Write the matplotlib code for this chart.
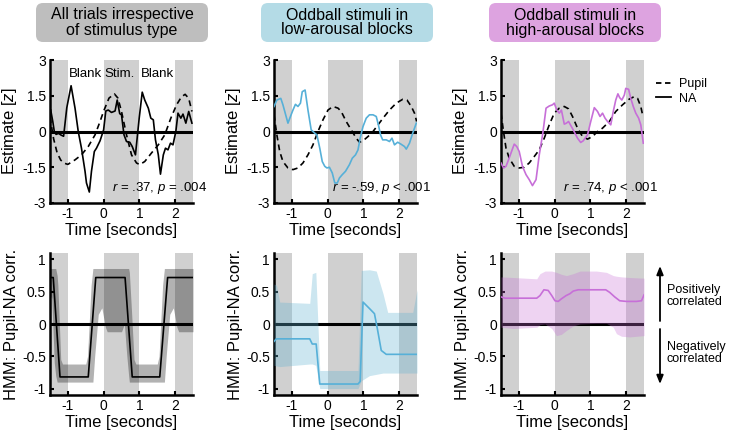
import matplotlib
matplotlib.use('Agg')
import matplotlib.pyplot as plt
from matplotlib.lines import Line2D
from matplotlib.patches import FancyBboxPatch

plt.rcParams['font.family'] = 'Liberation Sans'
plt.rcParams['mathtext.fontset'] = 'custom'
plt.rcParams['mathtext.it'] = 'Liberation Sans:italic'
plt.rcParams['mathtext.rm'] = 'Liberation Sans'
plt.rcParams['axes.unicode_minus'] = False

# ---- data ----
titles = ['All trials irrespective\nof stimulus type',
          'Oddball stimuli in\nlow-arousal blocks',
          'Oddball stimuli in\nhigh-arousal blocks']
stats = [r'$r$ = .37, $p$ = .004', r'$r$ = -.59, $p$ < .001', r'$r$ = .74, $p$ < .001']
phase_labels = ['Blank', 'Stim.', 'Blank']
phase_centers = [-0.5, 0.45, 1.5]
shade_spans = [(-1.5, -1.0), (0.0, 1.0), (2.0, 2.5)]
xticks = [-1, 0, 1, 2]
top_yticks = [-3, -1.5, 0, 1.5, 3]
top_yticklabels = ['-3', '-1.5', '0', '1.5', '3']
bot_yticks = [-1, -0.5, 0, 0.5, 1]
bot_yticklabels = ['-1', '-0.5', '0', '0.5', '1']

# panel 1: all trials
t1_na = [-1.48, -1.42, -1.38, -1.33, -1.26, -1.19, -1.12, -1.03, -0.91, -0.80,
         -0.71, -0.62, -0.52, -0.48, -0.40, -0.34, -0.26, -0.20, -0.10, 0.00,
         0.06, 0.13, 0.22, 0.32, 0.38, 0.45, 0.50, 0.57, 0.64, 0.73,
         0.80, 0.89, 0.995, 1.08, 1.15, 1.25, 1.32, 1.39, 1.45, 1.53,
         1.59, 1.67, 1.73, 1.80, 1.87, 1.94, 2.02, 2.08, 2.16, 2.22,
         2.30, 2.38, 2.47]
y1_na = [0.9, 0.4, 0.0, -0.12, -0.08, -0.15, -0.2, 1.0, 1.92, 0.98,
         0.0, -0.7, -1.67, -2.16, -2.54, -1.67, -0.84, -0.7, -0.39, 0.07,
         0.86, 0.9, 0.8, 0.86, 1.32, 0.75, 0.7, -0.14, -0.42, -0.45,
         -0.63, -0.98, 0.56, 1.65, 1.32, 0.98, 0.56, 0.49, -0.35, -0.98,
         -1.79, -0.98, -0.7, -0.77, -0.49, -0.56, 0.0, 0.77, 0.56, 0.73,
         0.35, 0.84, 0.35]
t1_pu = [-1.5, -1.4, -1.3, -1.2, -1.1, -1.0, -0.8, -0.62, -0.43, -0.24,
         -0.1, 0.0, 0.15, 0.3, 0.4, 0.5, 0.64, 0.78, 0.92, 1.01,
         1.15, 1.34, 1.53, 1.71, 1.88, 2.04, 2.18, 2.28, 2.38, 2.47]
y1_pu = [0.6, -0.3, -0.9, -1.2, -1.33, -1.38, -1.19, -0.98, -0.63, -0.14,
         0.42, 0.85, 1.4, 1.58, 1.4, 0.84, -0.14, -0.98, -1.32, -1.39,
         -1.26, -0.9, -0.56, -0.14, 0.56, 1.12, 1.46, 1.56, 1.39, 0.84]

# panel 2: low arousal
t2_na = [-1.5, -1.42, -1.31, -1.25, -1.11, -1.04, -0.97, -0.9, -0.83, -0.76,
         -0.71, -0.63, -0.55, -0.46, -0.36, -0.3, -0.22, -0.15, -0.08, -0.02,
         0.05, 0.13, 0.2, 0.27, 0.33, 0.41, 0.5, 0.61, 0.69, 0.78,
         0.85, 0.91, 0.99, 1.08, 1.17, 1.27, 1.36, 1.42, 1.48, 1.54,
         1.64, 1.73, 1.8, 1.87, 1.96, 2.05, 2.15, 2.2, 2.29, 2.38, 2.48]
y2_na = [1.05, 1.32, 1.39, 1.12, 0.35, 0.63, 0.9, 1.14, 1.05, 1.19,
         1.67, 1.74, 0.9, 0.07, -0.07, -0.14, -0.7, -1.26, -1.46, -1.53,
         -1.5, -1.74, -2.16, -2.16, -1.95, -1.81, -1.67, -1.39, -1.12, -0.98,
         -0.77, -0.28, 0.21, 0.56, 0.7, 0.7, 0.63, 0.28, -0.14, -0.35,
         -0.35, -0.42, -0.28, -0.56, -0.45, -0.53, -0.63, -0.74, -0.49, -0.07, 0.35]
t2_pu = [-1.5, -1.42, -1.34, -1.25, -1.11, -0.97, -0.83, -0.69, -0.55, -0.41,
         -0.27, -0.13, 0.01, 0.15, 0.29, 0.38, 0.52, 0.66, 0.8, 0.89,
         0.99, 1.13, 1.27, 1.41, 1.55, 1.73, 1.92, 2.1, 2.22, 2.34, 2.43, 2.49]
y2_pu = [0.7, -0.14, -0.84, -1.26, -1.53, -1.6, -1.53, -1.32, -0.98, -0.56,
         0.0, 0.49, 0.9, 1.05, 0.98, 0.84, 0.42, 0.07, -0.28, -0.45,
         -0.39, -0.21, 0.0, 0.28, 0.56, 0.9, 1.19, 1.35, 1.32, 1.05, 0.77, 0.42]

# panel 3: high arousal
t3_na = [-1.5, -1.43, -1.36, -1.29, -1.22, -1.13, -1.06, -0.99, -0.9, -0.8,
         -0.71, -0.62, -0.52, -0.43, -0.33, -0.24, -0.15, -0.06, -0.01, 0.06,
         0.13, 0.19, 0.27, 0.33, 0.39, 0.52, 0.64, 0.73, 0.8, 0.92,
         1.01, 1.11, 1.2, 1.27, 1.34, 1.41, 1.48, 1.57, 1.64, 1.71,
         1.77, 1.82, 1.88, 1.95, 1.99, 2.07, 2.13, 2.2, 2.27, 2.35, 2.41, 2.48]
y3_na = [-1.32, -1.53, -1.46, -1.19, -0.9, -0.53, -0.63, -0.84, -1.46, -1.81,
         -2.02, -2.27, -2.02, -0.98, -0.07, 0.98, 1.07, 1.12, 1.19, 0.9,
         0.77, 0.9, 0.31, 0.35, 0.42, 0.07, -0.28, -0.46, -0.39, -0.14,
         0.42, 1.0, 0.84, 0.63, 0.77, 0.56, 0.42, 0.28, 0.84, 1.32,
         1.58, 1.42, 1.32, 1.53, 1.81, 1.77, 1.39, 1.05, 0.77, 0.56, 0.28, -0.49]
t3_pu = [-1.5, -1.43, -1.36, -1.27, -1.13, -0.99, -0.85, -0.71, -0.57, -0.43,
         -0.29, -0.15, -0.01, 0.13, 0.27, 0.39, 0.5, 0.64, 0.78, 0.92,
         1.06, 1.2, 1.34, 1.53, 1.71, 1.9, 2.08, 2.22, 2.32, 2.41, 2.47]
y3_pu = [0.77, 0.0, -0.7, -1.12, -1.46, -1.53, -1.5, -1.32, -1.05, -0.77,
         -0.28, 0.28, 0.77, 0.98, 1.05, 0.95, 0.63, 0.14, -0.21, -0.32,
         -0.21, 0.0, 0.14, 0.42, 0.84, 1.12, 1.35, 1.46, 1.39, 1.05, 0.63]

# HMM pupil-NA correlation
tb1 = [-1.5, -1.41, -1.22, -0.43, -0.22, 0.6, 0.8, 1.57, 1.79, 2.5]
hmm1 = [0.72, 0.72, -0.82, -0.82, 0.72, 0.72, -0.82, -0.82, 0.72, 0.72]
tb1_ci = [-1.5, -1.45, -1.38, -1.34, -1.3, -1.28, -1.2, -1.15, -0.5, -0.45,
          -0.35, -0.3, -0.25, -0.15, -0.05, 0.05, 0.1, 0.5, 0.58, 0.65,
          0.7, 0.72, 0.78, 0.85, 0.9, 1.5, 1.55, 1.65, 1.7, 1.75,
          1.85, 1.95, 2.05, 2.1, 2.5]
hi1 = [0.86, 0.86, 0.86, 0.86, 0.75, 0.6, -0.55, -0.62, -0.62, -0.5,
       0.6, 0.86, 0.86, 0.86, 0.86, 0.86, 0.86, 0.86, 0.86, 0.86,
       0.86, 0.8, 0.2, -0.55, -0.62, -0.62, -0.5, 0.6, 0.86, 0.86,
       0.86, 0.86, 0.86, 0.86, 0.86]
lo1 = [0.45, 0.4, -0.6, -0.8, -0.9, -0.9, -0.9, -0.9, -0.9, -0.9,
       -0.9, -0.9, -0.5, 0.15, 0.25, -0.05, -0.12, -0.12, 0.0, -0.5,
       -0.8, -0.9, -0.9, -0.9, -0.9, -0.9, -0.9, -0.9, -0.9, -0.5,
       0.15, 0.25, -0.05, -0.12, -0.12]

tb2 = [-1.5, -1.43, -0.5, -0.43, -0.32, -0.22, 0.85, 0.91, 0.99, 1.08,
       1.17, 1.31, 1.4, 1.5, 1.64, 2.5]
hmm2 = [-0.27, -0.23, -0.23, -0.31, -0.31, -0.93, -0.93, -0.89, 0.34, 0.29,
        0.24, 0.16, -0.1, -0.41, -0.47, -0.47]
tb2_ci = [-1.5, -1.43, -1.34, -0.5, -0.43, -0.33, -0.22, 0.85, 0.94, 1.17,
          1.36, 1.55, 1.68, 2.38, 2.5]
hi2 = [0.62, 0.6, 0.34, 0.32, 0.78, 0.8, -0.72, -0.72, 0.83, 0.84,
       0.82, 0.47, 0.18, 0.18, 0.53]
lo2 = [-0.64, -0.65, -0.66, -0.62, -0.62, -0.64, -1.0, -1.0, -0.88, -0.8,
       -0.78, -0.76, -0.76, -0.76, -0.76]

tb3 = [-1.5, -1.39, -0.5, -0.41, -0.3, -0.18, -0.08, 0.01, 0.1, 0.19,
       0.32, 0.43, 0.52, 0.66, 1.43, 1.54, 1.68, 1.82, 2.01, 2.29, 2.43, 2.5]
hmm3 = [0.42, 0.4, 0.4, 0.44, 0.53, 0.52, 0.44, 0.36, 0.35, 0.39,
        0.44, 0.47, 0.51, 0.53, 0.53, 0.49, 0.42, 0.36, 0.35, 0.35, 0.36, 0.45]
tb3_ci = [-1.5, -1.16, -0.5, -0.41, -0.27, -0.08, 0.05, 0.19, 0.33, 0.52,
          0.71, 1.17, 1.45, 1.64, 1.73, 1.87, 2.1, 2.5]
hi3 = [0.73, 0.72, 0.7, 0.78, 0.82, 0.82, 0.8, 0.77, 0.75, 0.78,
       0.82, 0.82, 0.8, 0.75, 0.74, 0.73, 0.72, 0.71]
lo3 = [-0.05, -0.07, -0.05, -0.01, 0.0, -0.07, -0.18, -0.16, -0.1, -0.03,
       0.0, 0.01, 0.01, -0.05, -0.15, -0.19, -0.2, -0.18]

na_colors = ['black', '#56b0d8', '#c76fd8']
band_colors = ['black', '#64b4d2', '#c86ed7']
band_alpha = [0.3, 0.33, 0.3]
box_colors = ['#bebebe', '#b4dbe6', '#dda3e0']
shade_color = '#d0d0d0'

top_data = [(t1_na, y1_na, t1_pu, y1_pu), (t2_na, y2_na, t2_pu, y2_pu), (t3_na, y3_na, t3_pu, y3_pu)]
bot_data = [(tb1, hmm1, tb1_ci, lo1, hi1), (tb2, hmm2, tb2_ci, lo2, hi2), (tb3, hmm3, tb3_ci, lo3, hi3)]

# ---- layout (pixels) ----
W, H = 729, 434
fig = plt.figure(figsize=(W / 100, H / 100), dpi=100)


def px_axes(left, top, width, height):
    return fig.add_axes([left / W, 1 - (top + height) / H, width / W, height / H])


def style_axes(ax, ylim, yticks, yticklabels):
    for s in ['top', 'right']:
        ax.spines[s].set_visible(False)
    for s in ['left', 'bottom']:
        ax.spines[s].set_linewidth(1.8)
    ax.set_xlim(-1.5, 2.5)
    ax.set_ylim(ylim)
    ax.set_xticks(xticks)
    ax.set_xticklabels([str(x) for x in xticks])
    ax.set_yticks(yticks)
    ax.set_yticklabels(yticklabels)
    ax.tick_params(direction='in', length=3, width=1.5, labelsize=10, pad=3)
    for a, b in shade_spans:
        ax.axvspan(a, b, color=shade_color, lw=0, zorder=0)
    ax.axhline(0, color='black', lw=2.2, zorder=2)
    ax.set_xlabel('Time [seconds]', fontsize=12, labelpad=1)


col_left = [50, 274, 501]

for i in range(3):
    # top row: NA and pupil estimates
    ax = px_axes(col_left[i], 60, 143, 143)
    style_axes(ax, (-3, 3), top_yticks, top_yticklabels)
    t_na, y_na, t_pu, y_pu = top_data[i]
    ax.plot(t_pu, y_pu, color='black', lw=1.2, ls=(0, (3.5, 2.5)), zorder=3)
    ax.plot(t_na, y_na, color=na_colors[i], lw=1.2, zorder=4)
    ax.set_ylabel('Estimate [$z$]', fontsize=12, labelpad=2)
    ax.text(2.9, -2.38, stats[i], ha='right', va='center', fontsize=9.5, clip_on=False)
    if i == 0:
        for lab, xc in zip(phase_labels, phase_centers):
            ax.text(xc, 2.4, lab, ha='center', va='center', fontsize=9.5)
    if i == 2:
        handles = [Line2D([], [], color='black', lw=1.3, ls=(0, (3, 2))),
                   Line2D([], [], color='black', lw=1.3)]
        ax.legend(handles, ['Pupil', 'NA'], loc='upper left',
                  bbox_to_anchor=(656 / W, 1 - 78 / H), bbox_transform=fig.transFigure,
                  frameon=False, fontsize=9, handlelength=1.2, handletextpad=0.6,
                  labelspacing=0.2, borderaxespad=0, borderpad=0)

    # bottom row: HMM correlation
    ax = px_axes(col_left[i], 253, 143, 142)
    style_axes(ax, (-1.1, 1.1), bot_yticks, bot_yticklabels)
    tb, hm, tci, lo, hi = bot_data[i]
    ax.fill_between(tci, lo, hi, color=band_colors[i], alpha=band_alpha[i], lw=0, zorder=3)
    ax.plot(tb, hm, color=na_colors[i], lw=1.2, zorder=4)
    ax.set_ylabel('HMM: Pupil-NA corr.', fontsize=12, labelpad=2)

# overlay in pixel coordinates for title boxes and arrows
ov = fig.add_axes([0, 0, 1, 1])
ov.set_xlim(0, W)
ov.set_ylim(H, 0)
ov.axis('off')
ov.patch.set_alpha(0)

box_left = [36, 261, 489]
for i in range(3):
    ov.add_patch(FancyBboxPatch((box_left[i], 3), 172, 39,
                                boxstyle='round,pad=0,rounding_size=7',
                                fc=box_colors[i], ec='none'))
    ov.text(box_left[i] + 86, 22.5, titles[i], ha='center', va='center',
            fontsize=11.5, linespacing=1.0)

arrow = dict(arrowstyle='-|>,head_length=0.5,head_width=0.2', color='black', lw=1.3,
             shrinkA=0, shrinkB=0)
ov.annotate('', xy=(660, 266), xytext=(660, 321), arrowprops=arrow)
ov.annotate('', xy=(660, 384), xytext=(660, 329), arrowprops=arrow)
ov.text(667, 296, 'Positively\ncorrelated', ha='left', va='center', fontsize=9, linespacing=1.1)
ov.text(667, 353, 'Negatively\ncorrelated', ha='left', va='center', fontsize=9, linespacing=1.1)

fig.savefig('out.png', dpi=100)
